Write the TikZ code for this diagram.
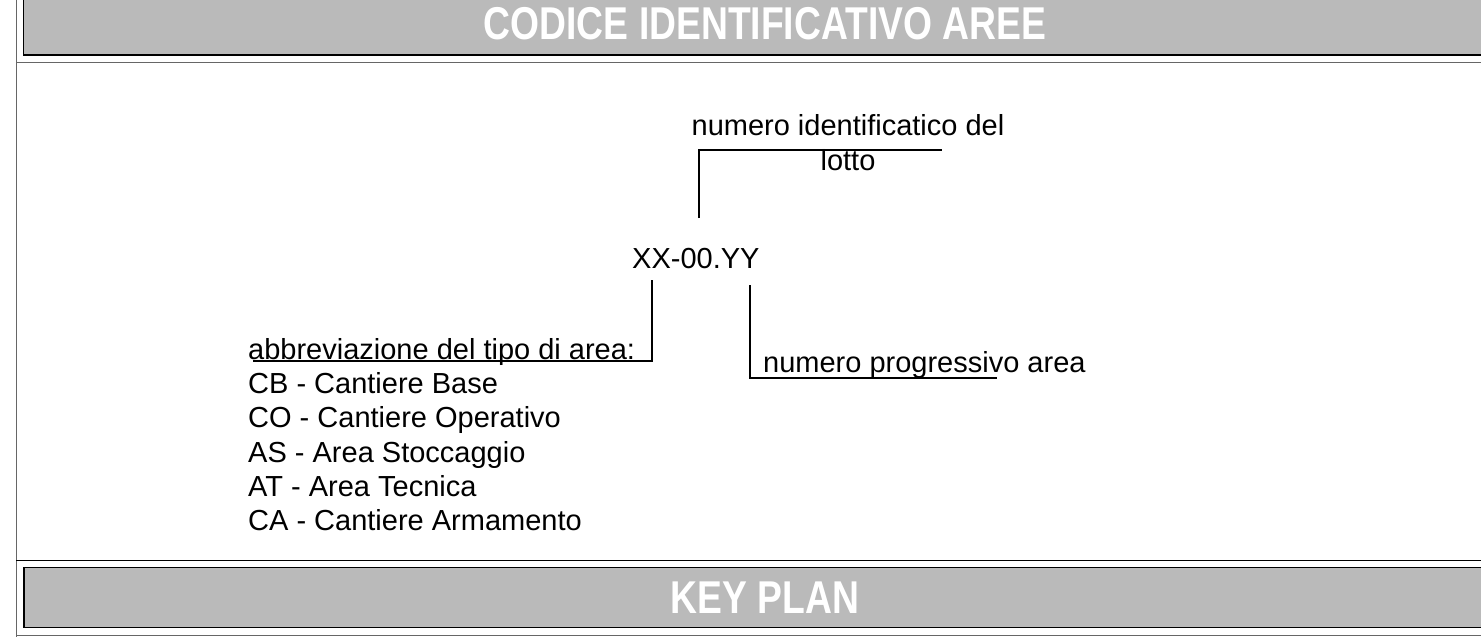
\documentclass[tikz,border=0pt]{standalone}
\usepackage{fontspec}
\setmainfont{Liberation Sans}
\newfontfamily\titlefont{Liberation Sans}[FakeStretch=0.81]
\definecolor{barcol}{HTML}{BABABA}
\definecolor{framegray}{HTML}{666666}
\tikzset{
  bar/.style={fill=barcol, draw=black, line width=1.2pt},
  frameline/.style={draw=framegray, line width=1.5pt},
  rule/.style={draw=black, line width=1.2pt},
  leader/.style={draw=black, line width=1.3pt},
  title/.style={anchor=base, inner sep=0pt, text=white, font=\titlefont\bfseries\fontsize{46}{50}\selectfont},
  lbl/.style={anchor=base west, inner sep=0pt, font=\fontsize{29}{34}\selectfont},
  clbl/.style={anchor=base, inner sep=0pt, font=\fontsize{29}{34}\selectfont}
}
\begin{document}
\begin{tikzpicture}[x=1pt,y=-1pt]
\useasboundingbox (0,0) rectangle (1481,637);
% frame
\draw[frameline] (16.7,0) -- (16.7,637);
\path[bar] (23.8,-5) rectangle (1490,55);
\draw[frameline] (16,62.3) -- (1490,62.3);
\draw[rule] (16,560.7) -- (1490,560.7);
\path[bar] (24,567.7) rectangle (1490,627.3);
\draw[frameline] (16,635.3) -- (1490,635.3);
% titles
\node[title] (t1) at (765,39.5) {CODICE IDENTIFICATIVO AREE};
\node[title] (t2) at (765,613) {KEY PLAN};
% code
\node[lbl] (code) at (632,268) {XX-00.YY};
% labels
\node[clbl] (lot1) at (848,135) {numero identificatico del};
\node[clbl] (lot2) at (848,170) {lotto};
\node[lbl] (prog) at (763,372) {numero progressivo area};
\node[lbl] (abb) at (248,359) {abbreviazione del tipo di area:};
\node[lbl] (l1) at (248,393) {CB - Cantiere Base};
\node[lbl] (l2) at (248,427.5) {CO - Cantiere Operativo};
\node[lbl] (l3) at (248,462) {AS - Area Stoccaggio};
\node[lbl] (l4) at (248,496) {AT - Area Tecnica};
\node[lbl] (l5) at (248,530) {CA - Cantiere Armamento};
% leader coordinates
\coordinate (a1) at (699,218);
\coordinate (a2) at (699,150);
\coordinate (a3) at (942,150);
\coordinate (b1) at (652,280);
\coordinate (b2) at (652,361);
\coordinate (b3) at (253,361);
\coordinate (c1) at (750,285);
\coordinate (c2) at (750,378);
\coordinate (c3) at (997,378);
\draw[leader] (a1) -- (a2) -- (a3);
\draw[leader] (b1) -- (b2) -- (b3);
\draw[leader] (c1) -- (c2) -- (c3);
\end{tikzpicture}
\end{document}
